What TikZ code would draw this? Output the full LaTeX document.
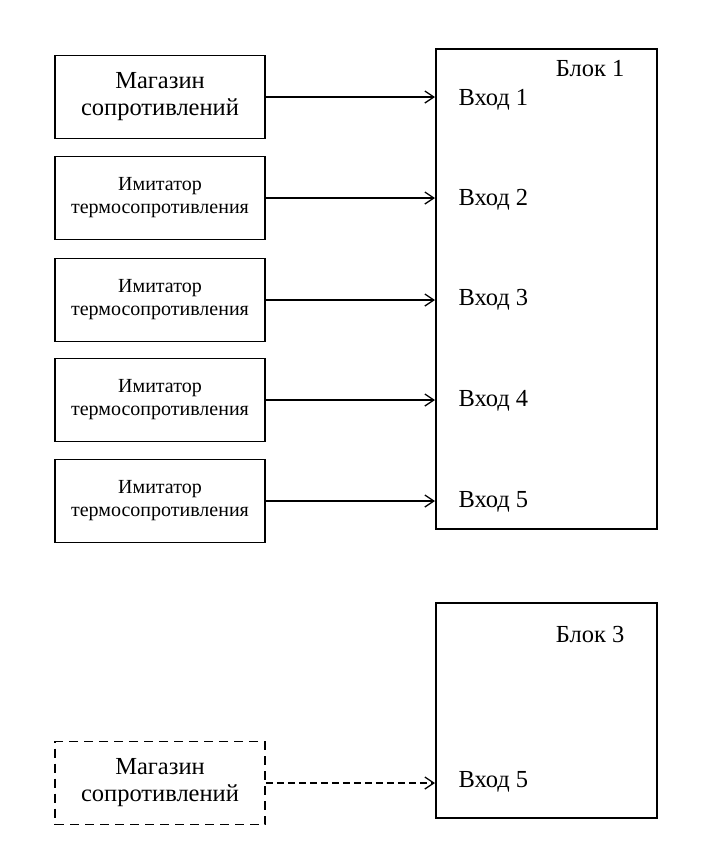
\documentclass[tikz,border=0pt]{standalone}
\usepackage{fontspec}
\setmainfont{Liberation Serif}
\usetikzlibrary{arrows.meta}
\tikzset{
  >={Straight Barb[length=9pt,width=12pt,line width=1.3pt]},
  caja/.style={draw,line width=1.8pt,minimum width=210pt,minimum height=83pt,align=center,inner sep=0pt},
  bloque/.style={draw,line width=1.8pt,minimum width=221pt,anchor=north west,inner sep=0pt},
  flecha/.style={->,line width=1.2pt},
  grande/.style={font=\fontsize{24.5}{27}\selectfont},
  chico/.style={font=\fontsize{20}{23}\selectfont},
}
\begin{document}
\begin{tikzpicture}[x=1pt,y=-1pt]
		\useasboundingbox[fill=white] (0,0) rectangle (723,852);
		%bloques
		\node[bloque,minimum height=480pt] at (435,48) (blok1) {};
		\node[bloque,minimum height=215pt] at (435,602) (blok3) {};
		\node[grande,anchor=east] at (628,69) (b1) {Блок 1};
		\node[grande,anchor=east] at (628,634) (b3) {Блок 3};
		%%%% ENTRADAS
		\node[caja,grande] at (160,97) (mag) {Магазин\\сопротивлений};
		\node[caja,chico] at (160,198) (imit2) {Имитатор\\термосопротивления};
		\node[caja,chico] at (160,300) (imit3) {Имитатор\\термосопротивления};
		\node[caja,chico] at (160,400) (imit4) {Имитатор\\термосопротивления};
		\node[caja,chico] at (160,501) (imit5) {Имитатор\\термосопротивления};
		\node[caja,grande,dashed,dash pattern=on 9pt off 6pt] at (160,783) (magb) {Магазин\\сопротивлений};
		%vhody
		\node[grande,anchor=west] at (455,100) (v1) {Вход 1};
		\node[grande,anchor=west] at (455,200) (v2) {Вход 2};
		\node[grande,anchor=west] at (455,300) (v3) {Вход 3};
		\node[grande,anchor=west] at (455,401) (v4) {Вход 4};
		\node[grande,anchor=west] at (455,502) (v5) {Вход 5};
		\node[grande,anchor=west] at (455,782) (v6) {Вход 5};
		%flechas
		\draw[flecha] (mag.east) -- (mag.east -| blok1.west);
		\draw[flecha] (imit2.east) -- (imit2.east -| blok1.west);
		\draw[flecha] (imit3.east) -- (imit3.east -| blok1.west);
		\draw[flecha] (imit4.east) -- (imit4.east -| blok1.west);
		\draw[flecha] (imit5.east) -- (imit5.east -| blok1.west);
		\draw[flecha,dashed,dash pattern=on 7pt off 4pt] (magb.east) -- (magb.east -| blok3.west);
\end{tikzpicture}
\end{document}
